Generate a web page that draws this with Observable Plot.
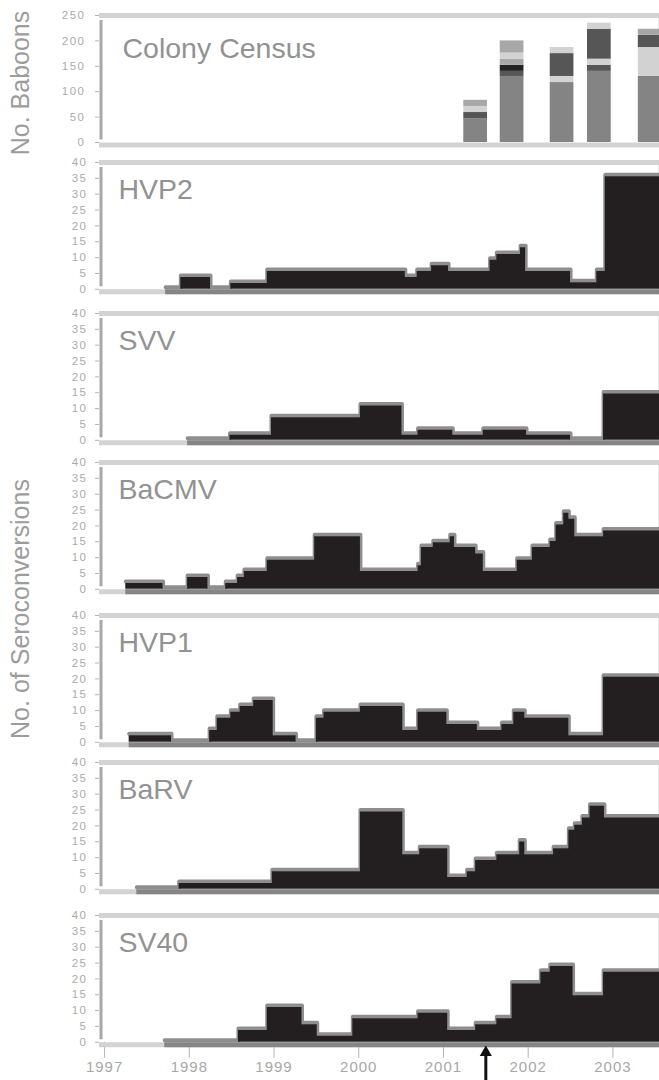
<!DOCTYPE html>
<html><head><meta charset="utf-8">
<script src="https://cdn.jsdelivr.net/npm/d3@7"></script>
<script src="https://cdn.jsdelivr.net/npm/@observablehq/plot@0.6"></script>
<style>
body{margin:0;background:#fff;}
#wrap{position:relative;width:659px;height:1080px;overflow:hidden;font-family:"Liberation Sans",Arial,sans-serif;}
#wrap svg{position:absolute;left:0;}
.ytitle{position:absolute;transform:translate(-50%,-50%) rotate(-90deg);white-space:nowrap;color:#9c9c9c;font-size:25px;line-height:1;}
</style></head><body><div id="wrap"></div><script>
// ---------------- data ----------------
const yearTicks = [1997, 1998, 1999, 2000, 2001, 2002, 2003];
const seroTicks = [0, 5, 10, 15, 20, 25, 30, 35, 40];
const censusTicks = [0, 50, 100, 150, 200, 250];

// colony census: stacked segments (bottom to top)
const censusDate  = [2001.38,2001.38,2001.38,2001.38, 2001.81,2001.81,2001.81,2001.81,2001.81,2001.81, 2002.40,2002.40,2002.40,2002.40, 2002.84,2002.84,2002.84,2002.84,2002.84, 2003.44,2003.44,2003.44,2003.44];
const censusCount = [47,12,12,12, 130,10,12,12,12,24, 118,12,45,12, 140,12,12,59,12, 130,57,24,12];
const censusShade = ["gray","dark","light","mid", "gray","dark","black","mid","light","mid", "gray","light","dark","light", "gray","dark","light","dark","light", "gray","light","dark","mid"];
const shadeNames  = ["gray","dark","black","light","mid"];
const shadeColors = ["#848484","#565656","#222222","#d2d2d2","#a7a7a7"];

const hvp2Date  = [1997.72,1997.90,1998.25,1998.49,1998.92,2000.55,2000.69,2000.86,2001.06,2001.55,2001.63,2001.91,2001.97,2002.50,2002.81,2002.91];
const hvp2Value = [0,3.7,0,1.8,5.6,3.7,5.6,7.4,5.6,9.2,11.0,13.1,5.6,2.1,5.6,35.5];

const svvDate  = [1997.98,1998.48,1998.97,2000.02,2000.51,2000.70,2001.11,2001.47,2001.98,2002.50,2002.89];
const svvValue = [0,1.6,7.1,10.8,1.6,3.2,1.6,3.2,1.6,0,14.6];

const bacmvDate  = [1997.25,1997.69,1997.98,1998.22,1998.43,1998.57,1998.65,1998.92,1999.48,2000.02,2000.70,2000.74,2000.88,2001.08,2001.13,2001.38,2001.47,2001.87,2002.05,2002.26,2002.33,2002.42,2002.48,2002.55,2002.89];
const bacmvValue = [1.8,0,3.7,0,1.8,3.7,5.6,9.2,16.6,5.6,7.4,13.2,14.7,16.6,13.2,11.1,5.6,9.2,13.2,15.1,20.3,24.0,22.1,16.6,18.4];

const hvp1Date  = [1997.29,1997.79,1998.24,1998.33,1998.49,1998.60,1998.76,1998.99,1999.26,1999.50,1999.59,2000.02,2000.52,2000.70,2001.04,2001.40,2001.69,2001.83,2001.96,2002.48,2002.89];
const hvp1Value = [2.1,0,3.7,7.6,9.5,11.3,13.2,2.1,0,7.6,9.5,11.3,3.7,9.5,5.6,3.7,5.6,9.5,7.6,2.1,20.5];

const barvDate  = [1997.38,1997.88,1998.98,2000.02,2000.52,2000.72,2001.05,2001.28,2001.38,2001.63,2001.90,2001.96,2002.30,2002.48,2002.55,2002.64,2002.73,2002.90];
const barvValue = [0,1.8,5.5,24.4,10.9,12.8,3.7,5.5,9.1,10.9,14.9,10.9,12.8,18.6,20.2,22.5,26.2,22.5];

const sv40Date  = [1997.71,1998.58,1998.92,1999.33,1999.51,1999.93,2000.70,2001.05,2001.38,2001.63,2001.81,2002.15,2002.26,2002.53,2002.89];
const sv40Value = [0,3.7,11.0,5.5,1.9,7.4,9.2,3.7,5.5,7.4,18.4,22.1,23.9,14.7,22.1];

const eventDate = [2001.5];

// ---------------- layout ----------------
const X0 = 1996.94, X1 = 2003.55;
const W = 659, ML = 99, PH = 126.8;
const wrap = document.getElementById("wrap");
const FONT = "Liberation Sans, Arial, sans-serif";

function place(svg, top, mt) {
  // restyle axis tick labels (numeric texts)
  d3.select(svg).selectAll("text").each(function() {
    const t = this.textContent.trim();
    if (/^\d{4}$/.test(t)) {
      d3.select(this).style("font-size", "15px").style("letter-spacing", "1px").style("fill", "#a8a8a8");
    } else if (/^\d{1,3}$/.test(t)) {
      d3.select(this).style("font-size", "11.5px").style("letter-spacing", "1.5px").style("fill", "#ababab");
    }
  });
  svg.style.top = (top - mt) + "px";
  wrap.append(svg);
}

function frameMarks(yMax, startDate) {
  const m = [
    Plot.ruleY([yMax], {stroke: "#d3d3d3", strokeWidth: 5}),
    Plot.ruleY([0], {stroke: "#d3d3d3", strokeWidth: 5, dy: 2.5}),
  ];
  if (startDate != null) m.push(Plot.ruleY([0], {x1: startDate, x2: X1, stroke: "#858585", strokeWidth: 5, dy: 2.5}));
  m.push(Plot.ruleX([X0], {y1: 0, y2: yMax, stroke: "#a8a8a8", strokeWidth: 3, dx: 1.5, insetTop: -2.5, insetBottom: -5}));
  m.push(Plot.ruleX([X1], {y1: 0, y2: yMax, stroke: "#cfcfcf", strokeWidth: 1, dx: -0.5}));
  return m;
}

function titleMark(name, dy, dx) {
  return Plot.text([name], {text: d => d, frameAnchor: "top-left", dx: dx, dy: dy, lineAnchor: "top", textAnchor: "start", fontSize: 28.5, fill: "#929292", fontFamily: FONT});
}

// Census panel
{
  const top = 15, zero = 142, mt = 6, mb = 8;
  const acc = new Map();
  const rows = censusDate.map((d, i) => {
    const y1 = acc.get(d) || 0, y2 = y1 + censusCount[i];
    acc.set(d, y2);
    return {date: d, y1, y2, shade: censusShade[i]};
  });
  const svg = Plot.plot({
    width: W, height: (zero - top) + mt + mb,
    marginLeft: ML, marginRight: 0, marginTop: mt, marginBottom: mb,
    style: {background: "transparent", overflow: "visible", color: "#b4b4b4", fontFamily: FONT, fontSize: "11px"},
    x: {domain: [X0, X1], axis: null},
    y: {domain: [0, 250], ticks: censusTicks, tickSize: 4, tickPadding: 10, label: null, tickFormat: d => String(d)},
    color: {domain: shadeNames, range: shadeColors},
    marks: [
      ...frameMarks(250, null),
      Plot.rect(rows, {x1: d => d.date - 0.14, x2: d => Math.min(d.date + 0.14, X1), y1: "y1", y2: "y2", fill: "shade"}),
      titleMark("Colony Census", 22, 23)
    ]
  });
  place(svg, top, mt);
}

function virusPanel(name, dates, values, zero, last) {
  const top = zero - PH, mt = 6, mb = last ? 1080 - zero + 2 : 8;
  const rows = dates.map((d, i) => ({date: d, value: values[i]}));
  rows.push({date: X1, value: values[values.length - 1]});
  const marks = [
    ...frameMarks(40, dates[0]),
    Plot.line(rows, {x: "date", y: "value", curve: "step-after", stroke: "#8e8e8e", strokeWidth: 4, dy: -2}),
    Plot.areaY(rows, {x: "date", y: "value", curve: "step-after", fill: "#231f20"}),
    titleMark(name, 16.5, 19)
  ];
  if (last) {
    marks.push(Plot.ruleX(eventDate, {x: d => d, y1: -12.5, y2: -3, stroke: "#111", strokeWidth: 3}));
    marks.push(Plot.dot(eventDate, {x: d => d, y: -3.2, symbol: "triangle", r: 4.5, fill: "#111", stroke: "none"}));
  }
  const svg = Plot.plot({
    width: W, height: (zero - top) + mt + mb,
    marginLeft: ML, marginRight: 0, marginTop: mt, marginBottom: mb,
    style: {background: "transparent", overflow: "visible", color: "#b4b4b4", fontFamily: FONT, fontSize: "11px"},
    x: last ? {domain: [X0, X1], ticks: yearTicks, tickFormat: d => String(d), tickSize: 16, tickPadding: 3, label: null}
            : {domain: [X0, X1], axis: null},
    y: {domain: [0, 40], ticks: seroTicks, tickSize: 4, tickPadding: 8, label: null, tickFormat: d => String(d)},
    marks
  });
  place(svg, top, mt);
}

virusPanel("HVP2", hvp2Date, hvp2Value, 288.3, false);
virusPanel("SVV", svvDate, svvValue, 440, false);
virusPanel("BaCMV", bacmvDate, bacmvValue, 588.3, false);
virusPanel("HVP1", hvp1Date, hvp1Value, 741.7, false);
virusPanel("BaRV", barvDate, barvValue, 889, false);
virusPanel("SV40", sv40Date, sv40Value, 1041.7, true);

// rotated axis titles
function ytitle(text, cx, cy) {
  const d = document.createElement("div");
  d.className = "ytitle";
  d.textContent = text;
  d.style.left = cx + "px";
  d.style.top = cy + "px";
  wrap.append(d);
}
ytitle("No. Baboons", 20, 83);
ytitle("No. of Seroconversions", 20, 609);
</script></body></html>
